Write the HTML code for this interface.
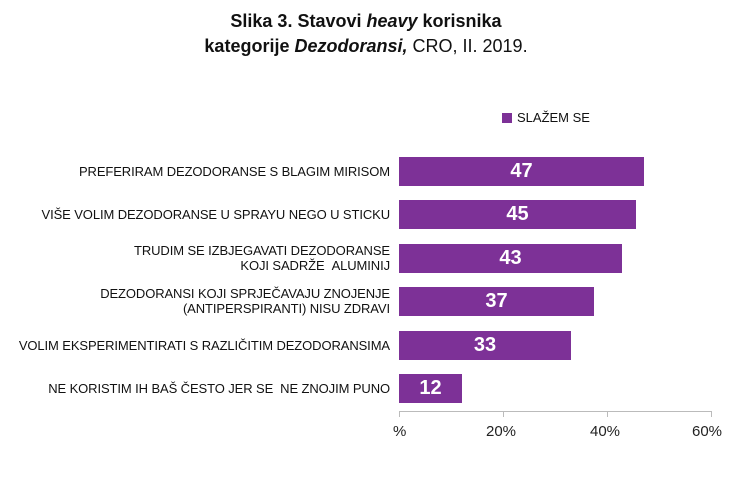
<!DOCTYPE html>
<html><head><meta charset="utf-8"><style>
body{margin:0;background:#fff;width:732px;height:489px;overflow:hidden;position:relative;font-family:"Liberation Sans",sans-serif}
.t{position:absolute;left:0;width:732px;text-align:center;font-weight:bold;font-size:18px;color:#111}
.bar{position:absolute;left:399px;height:29px;background:#7d3197;color:#fff;font-weight:bold;font-size:20px;text-align:center;line-height:29px}
.lab{position:absolute;right:342px;font-size:13px;color:#111;text-align:right;line-height:15px;letter-spacing:-0.1px}
.tk{position:absolute;top:423px;font-size:15px;color:#222}
</style></head><body>
<div class="t" style="top:11px">Slika 3. Stavovi <i>heavy</i> korisnika</div>
<div class="t" style="top:36px">kategorije <i>Dezodoransi,</i> <span style="font-weight:normal">CRO, II. 2019.</span></div>
<div style="position:absolute;left:502px;top:113px;width:10px;height:10px;background:#7d3197"></div>
<div style="position:absolute;left:517px;top:110px;font-size:13px;color:#111">SLAŽEM SE</div>

<div class="lab" style="top:164px">PREFERIRAM DEZODORANSE S BLAGIM MIRISOM</div>
<div class="lab" style="top:207px">VIŠE VOLIM DEZODORANSE U SPRAYU NEGO U STICKU</div>
<div class="lab" style="top:243px">TRUDIM SE IZBJEGAVATI DEZODORANSE<br>KOJI SADRŽE &nbsp;ALUMINIJ</div>
<div class="lab" style="top:286px">DEZODORANSI KOJI SPRJEČAVAJU ZNOJENJE<br>(ANTIPERSPIRANTI) NISU ZDRAVI</div>
<div class="lab" style="top:338px">VOLIM EKSPERIMENTIRATI S RAZLIČITIM DEZODORANSIMA</div>
<div class="lab" style="top:381px">NE KORISTIM IH BAŠ ČESTO JER SE &nbsp;NE ZNOJIM PUNO</div>

<div class="bar" style="top:157px;width:245px">47</div>
<div class="bar" style="top:200px;width:237px">45</div>
<div class="bar" style="top:244px;width:223px">43</div>
<div class="bar" style="top:287px;width:195px">37</div>
<div class="bar" style="top:331px;width:172px">33</div>
<div class="bar" style="top:374px;width:63px">12</div>

<div style="position:absolute;left:399px;top:411px;width:313px;height:1px;background:#bbb"></div>
<div style="position:absolute;left:399px;top:411px;width:1px;height:6px;background:#bbb"></div>
<div style="position:absolute;left:503px;top:411px;width:1px;height:6px;background:#bbb"></div>
<div style="position:absolute;left:607px;top:411px;width:1px;height:6px;background:#bbb"></div>
<div style="position:absolute;left:711px;top:411px;width:1px;height:6px;background:#bbb"></div>
<div class="tk" style="left:393px">%</div>
<div class="tk" style="left:486px">20%</div>
<div class="tk" style="left:590px">40%</div>
<div class="tk" style="left:692px">60%</div>
</body></html>
